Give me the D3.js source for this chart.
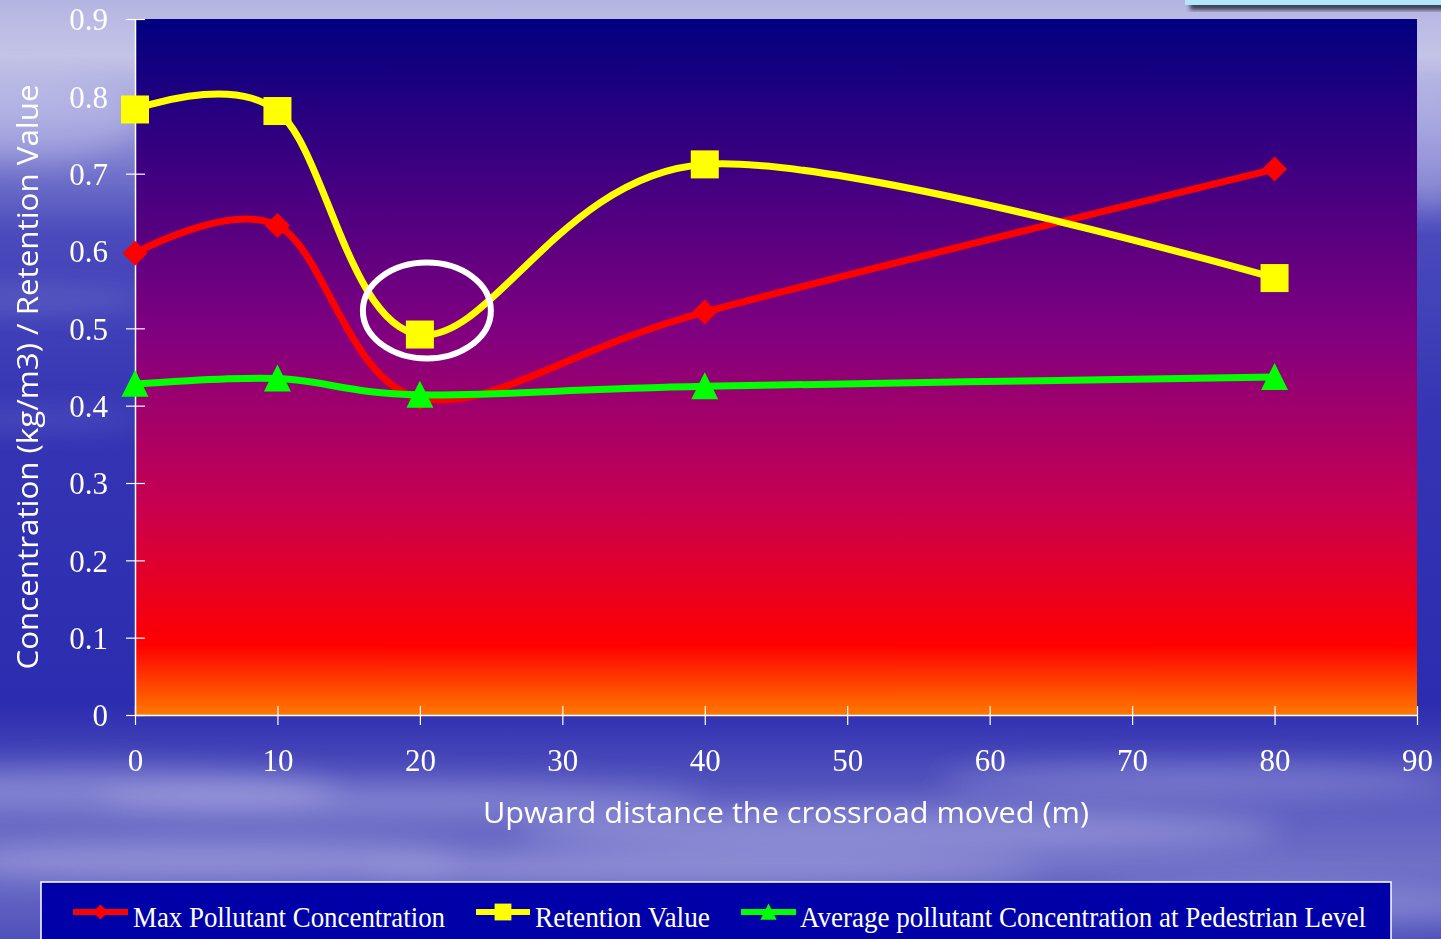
<!DOCTYPE html>
<html><head><meta charset="utf-8">
<script src="https://cdn.jsdelivr.net/npm/d3@7"></script>
<style>html,body{margin:0;padding:0;overflow:hidden;background:#2a2ab0}</style>
</head><body>
<script>
const xValues = [0, 10, 20, 40, 80];
const maxPollutant = [0.597, 0.633, 0.41, 0.521, 0.706];
const retention = [0.783, 0.781, 0.492, 0.712, 0.565];
const avgPedestrian = [0.428, 0.435, 0.414, 0.425, 0.437];
const seriesNames = ["Max Pollutant Concentration", "Retention Value", "Average pollutant Concentration at Pedestrian Level"];
const xTicks = [0,10,20,30,40,50,60,70,80,90];
const yTicks = [0,0.1,0.2,0.3,0.4,0.5,0.6,0.7,0.8,0.9];
const xTitle = "Upward distance the crossroad moved (m)";
const yTitle = "Concentration (kg/m3) / Retention Value";

(function(){
const W = 1441, H = 939;
const svg = d3.select("body").append("svg").attr("width", W).attr("height", H);
const defs = svg.append("defs");

// background sky
const bg = defs.append("linearGradient").attr("id","bg").attr("x1",0).attr("y1",0).attr("x2",0).attr("y2",1);
[[0,"#b4b4e2"],[0.06,"#c4c4e8"],[0.14,"#8e8ed6"],[0.25,"#4a4abc"],[0.45,"#3434b4"],[0.75,"#2c2cb0"],[0.85,"#5a5ac0"],[0.92,"#7070c8"],[1,"#5050bc"]]
  .forEach(([o,c])=>bg.append("stop").attr("offset",o).attr("stop-color",c));
svg.append("rect").attr("width",W).attr("height",H).attr("fill","url(#bg)");
const blur = defs.append("filter").attr("id","blur").attr("x","-50%").attr("y","-50%").attr("width","200%").attr("height","200%");
blur.append("feGaussianBlur").attr("stdDeviation",14);
const clouds = [[80,790,260,22,0.35],[400,800,300,18,0.3],[900,830,380,20,0.35],[1200,780,260,16,0.3],[200,860,260,20,0.3],[700,870,340,16,0.3],[20,120,120,40,0.35],[1430,150,40,60,0.3],[30,300,120,8,0.25],[30,420,120,8,0.2],[1300,905,200,20,0.3]];
svg.append("g").attr("filter","url(#blur)").selectAll("ellipse").data(clouds).join("ellipse")
  .attr("cx",d=>d[0]).attr("cy",d=>d[1]).attr("rx",d=>d[2]).attr("ry",d=>d[3])
  .attr("fill","#d8d8f4").attr("opacity",d=>d[4]);

// top right box
const sh = defs.append("filter").attr("id","sh"); sh.append("feGaussianBlur").attr("stdDeviation",2);
svg.append("rect").attr("x",1190).attr("y",-4).attr("width",260).attr("height",14).attr("fill","#202030").attr("opacity",0.8).attr("filter","url(#sh)");
svg.append("rect").attr("x",1185).attr("y",-4).attr("width",260).attr("height",9).attr("fill","#b4e6fa");

// plot area
const pL = 135, pR = 1417, pT = 19, pB = 715;
const x = d3.scaleLinear().domain([0,90]).range([pL,pR]);
const y = d3.scaleLinear().domain([0,0.9]).range([pB,pT]);
const pg = defs.append("linearGradient").attr("id","pg").attr("x1",0).attr("y1",0).attr("x2",0).attr("y2",1);
[[0,"#000080"],[0.45,"#800080"],[0.7,"#c80050"],[0.9,"#ff0000"],[1,"#ff7800"]]
  .forEach(([o,c])=>pg.append("stop").attr("offset",o).attr("stop-color",c));
svg.append("rect").attr("x",pL).attr("y",pT).attr("width",pR-pL).attr("height",pB-pT).attr("fill","url(#pg)");

// axes
const yAxis = svg.append("g").attr("transform",`translate(${pL},0)`)
  .call(d3.axisLeft(y).tickValues(yTicks).tickSize(0).tickFormat(d=>d===0?"0":d3.format(".1f")(d)));
yAxis.select(".domain").attr("stroke","#fff").attr("stroke-width",1.5);
yAxis.selectAll(".tick line").remove();
yAxis.selectAll(".tick").append("line").attr("x1",-9).attr("x2",10).attr("stroke","#fff").attr("stroke-width",1.2);
yAxis.selectAll(".tick text").attr("x",-27).attr("dy","0.35em").attr("fill","#fff")
  .style("font-family","'Liberation Serif',serif").style("font-size","31px");

const xAxis = svg.append("g").attr("transform",`translate(0,${pB})`)
  .call(d3.axisBottom(x).tickValues(xTicks).tickSize(0));
xAxis.select(".domain").attr("stroke","#fff").attr("stroke-width",1.5);
xAxis.selectAll(".tick line").remove();
xAxis.selectAll(".tick").append("line").attr("y1",-9).attr("y2",10).attr("stroke","#fff").attr("stroke-width",1.2);
xAxis.selectAll(".tick text").attr("y",56).attr("dy",0).attr("fill","#fff")
  .style("font-family","'Liberation Serif',serif").style("font-size","31px");

// axis titles
svg.append("text").attr("x",786).attr("y",823).attr("text-anchor","middle").attr("fill","#fff")
  .attr("textLength",606).attr("lengthAdjust","spacingAndGlyphs")
  .style("font-family","'Open Sans',sans-serif").style("font-size","30px").text(xTitle);
svg.append("text").attr("transform","translate(38,377) rotate(-90)").attr("text-anchor","middle").attr("fill","#fff")
  .attr("textLength",585).attr("lengthAdjust","spacingAndGlyphs")
  .style("font-family","'Open Sans',sans-serif").style("font-size","30px").text(yTitle);

// series
const curve = d3.curveCardinal.tension(0);
const series = [
  {vals: maxPollutant, color: "#ff0000", shape: "diamond"},
  {vals: retention, color: "#ffff00", shape: "square"},
  {vals: avgPedestrian, color: "#00ff00", shape: "triangle"}
];
function marker(g, shape, color, cx, cy, scale=1){
  if(shape==="diamond"){
    const r = 12.5*scale;
    g.append("path").attr("d",`M${cx},${cy-r}L${cx+r},${cy}L${cx},${cy+r}L${cx-r},${cy}Z`).attr("fill",color);
  } else if(shape==="square"){
    const s = 14*scale;
    g.append("rect").attr("x",cx-s).attr("y",cy-s).attr("width",2*s).attr("height",2*s).attr("fill",color);
  } else {
    const s = 13.5*scale;
    g.append("path").attr("d",`M${cx},${cy-s*1.05}L${cx+s},${cy+s*0.95}L${cx-s},${cy+s*0.95}Z`).attr("fill",color);
  }
}
const line = d3.line().x(d=>x(d[0])).y(d=>y(d[1])).curve(curve);
series.forEach(s=>{
  const pts = xValues.map((v,i)=>[v,s.vals[i]]);
  svg.append("path").attr("d",line(pts)).attr("fill","none").attr("stroke",s.color).attr("stroke-width",7).attr("stroke-linejoin","round");
  const g = svg.append("g");
  pts.forEach(p=>marker(g, s.shape, s.color, x(p[0]), y(p[1])));
});

// highlight ellipse around the minimum retention value
svg.append("ellipse").attr("cx",x(xValues[2])+7).attr("cy",y(retention[2])-24).attr("rx",64).attr("ry",48)
  .attr("fill","none").attr("stroke","#fff").attr("stroke-width",6);

// legend
svg.append("rect").attr("x",41).attr("y",882).attr("width",1350).attr("height",70).attr("fill","#0000a8").attr("stroke","#fff").attr("stroke-width",1.5);
const legendItems = [
  {x0:73, x1:128, tx:133, tl:312},
  {x0:476, x1:530, tx:535, tl:175},
  {x0:741, x1:796, tx:800, tl:566}
];
legendItems.forEach((li,i)=>{
  const s = series[i];
  const ly = 912;
  svg.append("line").attr("x1",li.x0).attr("x2",li.x1).attr("y1",ly).attr("y2",ly).attr("stroke",s.color).attr("stroke-width",6);
  marker(svg.append("g"), s.shape, s.color, (li.x0+li.x1)/2, ly, 0.6);
  svg.append("text").attr("x",li.tx).attr("y",927).attr("fill","#fff")
    .attr("textLength",li.tl).attr("lengthAdjust","spacingAndGlyphs")
    .style("font-family","'Liberation Serif',serif").style("font-size","29px").text(seriesNames[i]);
});
})();
</script>
</body></html>
